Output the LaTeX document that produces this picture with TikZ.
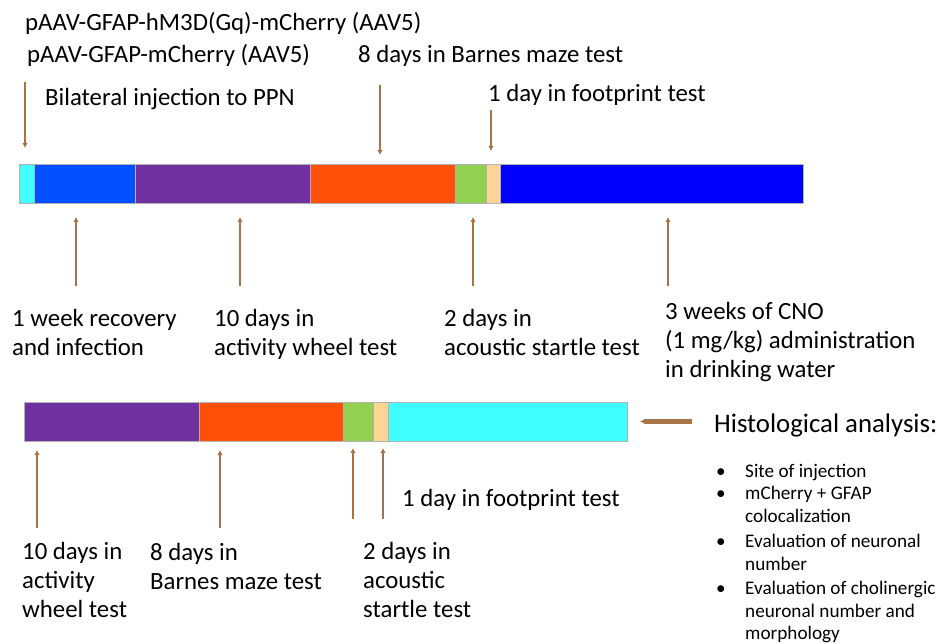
\documentclass[tikz,border=0pt]{standalone}
\usepackage{fontspec}
\setmainfont{Carlito}
\usetikzlibrary{positioning}
\usetikzlibrary{calc}
\usetikzlibrary{arrows.meta}

\definecolor{segcyan}{RGB}{64,255,255}
\definecolor{segazure}{RGB}{0,80,255}
\definecolor{segpurple}{RGB}{112,48,160}
\definecolor{segorange}{RGB}{255,80,10}
\definecolor{seggreen}{RGB}{146,208,80}
\definecolor{segbeige}{RGB}{250,214,146}
\definecolor{segblue}{RGB}{0,0,255}
\definecolor{arrowbrown}{RGB}{166,116,70}

\begin{document}
\begin{tikzpicture}[x=1pt, y=-1pt,
    SEG/.style={rectangle, draw=gray!60, line width=0.6pt, inner sep=0pt, outer sep=0pt, minimum height=39pt, anchor=west},
    LBL/.style={anchor=base west, inner sep=0pt, align=left, font=\fontsize{24.8}{29}\selectfont},
    ARR/.style={-{Latex[length=5pt,width=5.5pt]}, arrowbrown, line width=2.8pt}]

    \useasboundingbox (0,0) rectangle (941,644);

    % first timeline
    \node[SEG, fill=segcyan, minimum width=15pt] (inj) at (19,183.5) {};
    \node[SEG, fill=segazure, minimum width=101pt, right=0pt of inj] (rec) {};
    \node[SEG, fill=segpurple, minimum width=175pt, right=0pt of rec] (wheel) {};
    \node[SEG, fill=segorange, minimum width=145pt, right=0pt of wheel] (barnes) {};
    \node[SEG, fill=seggreen, minimum width=31pt, right=0pt of barnes] (startle) {};
    \node[SEG, fill=segbeige, minimum width=14pt, right=0pt of startle] (foot) {};
    \node[SEG, fill=segblue, minimum width=303pt, right=0pt of foot] (cno) {};

    % second timeline
    \node[SEG, fill=segpurple, minimum width=175pt] (wheelB) at (24,421.5) {};
    \node[SEG, fill=segorange, minimum width=144pt, right=0pt of wheelB] (barnesB) {};
    \node[SEG, fill=seggreen, minimum width=30pt, right=0pt of barnesB] (startleB) {};
    \node[SEG, fill=segbeige, minimum width=15pt, right=0pt of startleB] (footB) {};
    \node[SEG, fill=segcyan, minimum width=239pt, right=0pt of footB] (histo) {};

    % labels (base = last line)
    \node[LBL] (vec1) at (25,31) {pAAV-GFAP-hM3D(Gq)-mCherry (AAV5)};
    \node[LBL] (vec2) at (27,63) {pAAV-GFAP-mCherry (AAV5)};
    \node[LBL] (inject) at (45,106) {Bilateral injection to PPN};
    \node[LBL] (t-barnes) at (358,63) {8 days in Barnes maze test};
    \node[LBL] (t-foot) at (488,102) {1 day in footprint test};
    \node[LBL] (t-rec) at (12,355) {1 week recovery\\and infection};
    \node[LBL] (t-wheel) at (214,355) {10 days in\\activity wheel test};
    \node[LBL] (t-startle) at (444,355) {2 days in\\acoustic startle test};
    \node[LBL] (t-cno) at (665,377) {3 weeks of CNO\\(1 mg/kg) administration\\in drinking water};
    \node[LBL] (b-wheel) at (22,617) {10 days in\\activity\\wheel test};
    \node[LBL] (b-barnes) at (150,589) {8 days in\\Barnes maze test};
    \node[LBL] (b-startle) at (363,617) {2 days in\\acoustic\\startle test};
    \node[LBL] (b-foot) at (402,506) {1 day in footprint test};
    \node[LBL, font=\fontsize{26.8}{31}\selectfont] (histo-t) at (714,432) {Histological analysis:};
    \node[anchor=base west, inner sep=0pt, font=\fontsize{19.2}{22.5}\selectfont] (histo-list) at (716,477)
        {\begin{tabular}[t]{@{}p{29pt}@{}l@{}}
         \textbullet & Site of injection\\[0pt]
         \textbullet & mCherry + GFAP\\
                     & colocalization\\[3pt]
         \textbullet & Evaluation of neuronal\\
                     & number\\[2pt]
         \textbullet & Evaluation of cholinergic\\
                     & neuronal number and\\
                     & morphology
         \end{tabular}};

    % arrows
    \coordinate (a-inj) at (25,82);
    \coordinate (a-barnes) at (380,85);
    \coordinate (a-foot) at (491,110);
    \draw[ARR, shorten >=16pt] (a-inj) -- (a-inj |- inj.north);
    \draw[ARR, shorten >=9pt] (a-barnes) -- (a-barnes |- barnes.north);
    \draw[ARR, shorten >=13pt] (a-foot) -- (a-foot |- foot.north);

    \coordinate (a-rec) at (76,286);
    \coordinate (a-wheel) at (240,286);
    \coordinate (a-startle) at (473,286);
    \coordinate (a-cno) at (668,286);
    \draw[ARR, shorten >=14pt] (a-rec) -- (a-rec |- rec.south);
    \draw[ARR, shorten >=14pt] (a-wheel) -- (a-wheel |- wheel.south);
    \draw[ARR, shorten >=14pt] (a-startle) -- (a-startle |- startle.south);
    \draw[ARR, shorten >=14pt] (a-cno) -- (a-cno |- cno.south);

    \coordinate (b-a-wheel) at (37,528);
    \coordinate (b-a-barnes) at (220,528);
    \coordinate (b-a-startle) at (353,519);
    \coordinate (b-a-foot) at (383,519);
    \draw[ARR, shorten >=9pt] (b-a-wheel) -- (b-a-wheel |- wheelB.south);
    \draw[ARR, shorten >=9pt] (b-a-barnes) -- (b-a-barnes |- barnesB.south);
    \draw[ARR, shorten >=7pt] (b-a-startle) -- (b-a-startle |- startleB.south);
    \draw[ARR, shorten >=7pt] (b-a-foot) -- (b-a-foot |- footB.south);

    \coordinate (a-histo) at (692,421.5);
    \draw[ARR, line width=4.5pt, shorten >=13pt] (a-histo) -- (histo.east);
\end{tikzpicture}
\end{document}
